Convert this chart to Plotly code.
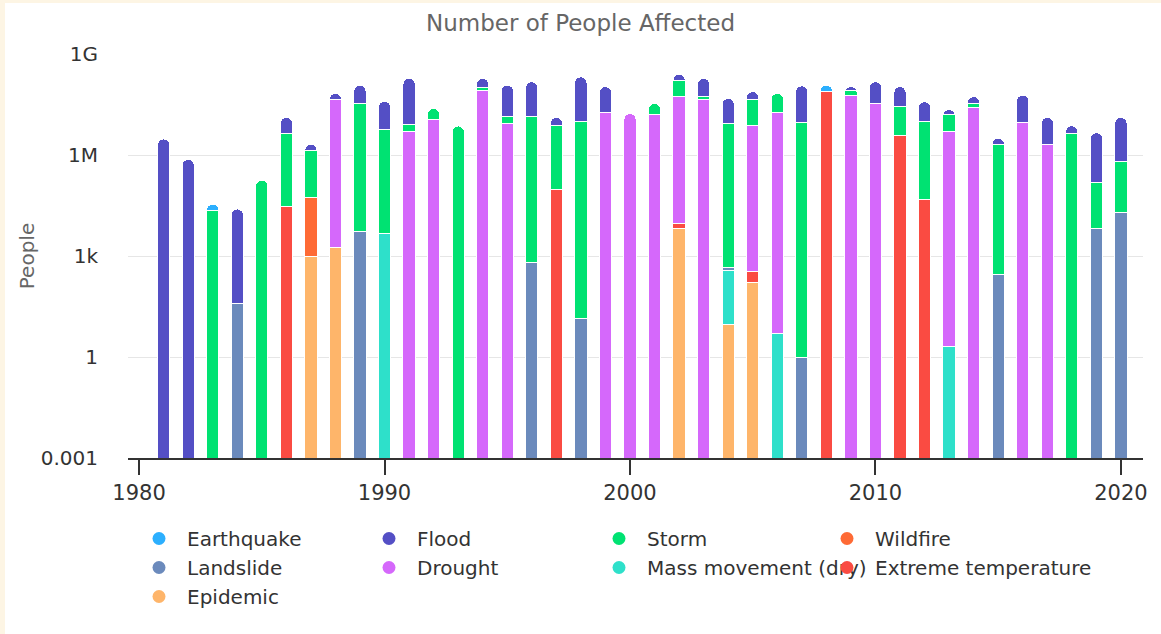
import plotly.graph_objects as go

N = None
years = list(range(1981, 2021))

# values per series (people affected), one entry per year 1981..2020
earthquake = [N,N,1.3e4,N,N,N,N,N,N,N,
              N,N,N,N,N,N,N,N,N,N,
              N,N,N,N,N,N,N,4.4e7,N,N,
              N,N,N,N,N,N,N,N,N,N]
flood = [3.0e6,7.4e5,N,2.5e4,N,8.6e6,7.0e5,2.2e7,8.5e7,3.4e7,
         1.82e8,N,N,9.0e7,1.06e8,1.36e8,5.7e6,2.0e8,8.9e7,N,
         N,8.8e7,1.34e8,3.93e7,3.1e7,N,1.04e8,N,2.6e7,1.16e8,
         7.9e7,2.8e7,6.5e6,1.9e7,1.2e6,5.1e7,1.1e7,3.0e6,4.45e6,1.24e7]
storm = [N,N,2.2e4,N,1.8e5,4.37e6,1.35e6,N,3.5e7,5.8e6,
         2.9e6,1.3e7,7.3e6,2.0e7,5.3e6,1.4e7,7.2e6,1.0e7,N,N,
         1.85e7,1.06e8,1.1e7,8.7e6,3.77e7,5.0e7,9.1e6,N,2.1e7,N,
         2.4e7,1.0e7,1.06e7,1.0e7,2.0e6,N,N,4.4e6,1.43e5,6.1e5]
wildfire = [N,N,N,N,N,N,5.3e4,N,N,N,
            N,N,N,N,N,N,N,N,N,N,
            N,N,N,N,N,N,N,N,N,N,
            N,N,N,N,N,N,N,N,N,N]
landslide = [N,N,N,39,N,N,N,N,5.3e3,N,
             N,N,N,N,N,650,N,14,N,N,
             N,N,N,70,N,N,1,N,N,N,
             N,N,N,N,290,N,N,N,6.6e3,1.95e4]
drought = [N,N,N,N,N,N,N,4.6e7,N,N,
           4.9e6,1.1e7,N,8.0e7,8.7e6,N,N,N,1.8e7,1.7e7,
           1.55e7,5.6e7,4.5e7,N,7.3e6,1.8e7,N,N,6.0e7,3.4e7,
           N,N,4.9e6,2.5e7,N,9.1e6,2.0e6,N,N,N]
mass_movement = [N,N,N,N,N,N,N,N,N,4.7e3,
                 N,N,N,N,N,N,N,N,N,N,
                 N,N,N,371,N,5,N,N,N,N,
                 N,N,2,N,N,N,N,N,N,N]
extreme_temp = [N,N,N,N,N,3.0e4,N,N,N,N,
                N,N,N,N,N,N,9.6e4,N,N,N,
                N,2.8e3,N,N,189,N,N,7.6e7,N,N,
                3.9e6,4.8e4,N,N,N,N,N,N,N,N]
epidemic = [N,N,N,N,N,N,950,1.8e3,N,N,
            N,N,N,N,N,N,N,N,N,N,
            N,6.6e3,N,9,166,N,N,N,N,N,
            N,N,N,N,N,N,N,N,N,N]

# (name, values, colour, legend column); listed in legend order,
# first series sits on top of the stack
series = [
    ("Earthquake", earthquake, "#2caffe", "legend"),
    ("Flood", flood, "#544fc5", "legend2"),
    ("Storm", storm, "#00e272", "legend3"),
    ("Wildfire", wildfire, "#fe6a35", "legend4"),
    ("Landslide", landslide, "#6b8abc", "legend"),
    ("Drought", drought, "#d568fb", "legend2"),
    ("Mass movement (dry)", mass_movement, "#2ee0ca", "legend3"),
    ("Extreme temperature", extreme_temp, "#fa4b42", "legend4"),
    ("Epidemic", epidemic, "#feb56a", "legend"),
]

ytickvals = [1e-3, 1, 1e3, 1e6, 1e9]
yticktext = ["0.001", "1", "1k", "1M", "1G"]
xtickvals = [1980, 1990, 2000, 2010, 2020]

FONT = "DejaVu Sans"

fig = go.Figure()
# stack bottom-up: add in reverse legend order
for name, vals, color, lg in reversed(series):
    fig.add_trace(go.Bar(
        x=years, y=vals, name=name, showlegend=False,
        marker=dict(color=color, line=dict(color="white", width=1)),
    ))
# legend entries with round symbols
for name, vals, color, lg in series:
    fig.add_trace(go.Scatter(
        x=[None], y=[None], mode="markers", name=name, legend=lg,
        marker=dict(color=color, size=13, symbol="circle"),
    ))

W, H = 1161, 634
L, R, T, B = 128, 18, 54, 176
pw, ph = W - L - R, H - T - B

leg_common = dict(orientation="v", yanchor="top", xanchor="left",
                  traceorder="normal",
                  y=(458 - 519) / ph, itemwidth=46,
                  font=dict(family=FONT, size=20, color="#333333"),
                  bgcolor="rgba(0,0,0,0)", borderwidth=0,
                  itemclick=False, itemdoubleclick=False)
col_marker_px = [158, 388, 618, 846]
leg_x = [(px - 27 - L) / pw for px in col_marker_px]

fig.update_layout(
    width=W, height=H,
    margin=dict(l=L, r=R, t=T, b=B, autoexpand=False),
    paper_bgcolor="#fdf5e4",
    plot_bgcolor="white",
    barmode="stack",
    bargap=0.5,
    barcornerradius=6,
    font=dict(family=FONT, color="#333333"),
    title=dict(text="Number of People Affected", x=0.5, xref="container",
               xanchor="center", y=1 - 23 / H, yanchor="middle",
               font=dict(family=FONT, size=23, color="#666666")),
    xaxis=dict(range=[1979.55, 2020.9], tickvals=xtickvals,
               ticktext=[str(v) for v in xtickvals],
               showgrid=False, zeroline=False, automargin=False,
               showline=True, linecolor="#333333", linewidth=1.5,
               ticks="outside", ticklen=15, tickwidth=1.5, tickcolor="#333333",
               tickfont=dict(size=21, color="#333333")),
    yaxis=dict(type="log", range=[-3, 9], tickvals=ytickvals, ticktext=yticktext,
               showgrid=True, gridcolor="#e6e6e6", gridwidth=1,
               zeroline=False, showline=False, ticks="", automargin=False,
               ticklabelstandoff=29,
               tickfont=dict(size=20, color="#333333"),
               title=dict(text="People", standoff=0,
                          font=dict(size=20, color="#666666"))),
    legend=dict(leg_common, x=leg_x[0]),
    legend2=dict(leg_common, x=leg_x[1]),
    legend3=dict(leg_common, x=leg_x[2]),
    legend4=dict(leg_common, x=leg_x[3]),
    shapes=[dict(type="rect", xref="paper", yref="paper",
                 x0=(5 - L) / pw, x1=(W + 5 - L) / pw,
                 y0=(458 - H - 5) / ph, y1=(458 - 3) / ph,
                 fillcolor="white", line=dict(width=0), layer="below")],
)

fig.write_html(
    "out.html",
    config={"displayModeBar": False},
    post_script="document.body.style.margin='0';"
                "document.body.style.background='#fdf5e4';",
)
